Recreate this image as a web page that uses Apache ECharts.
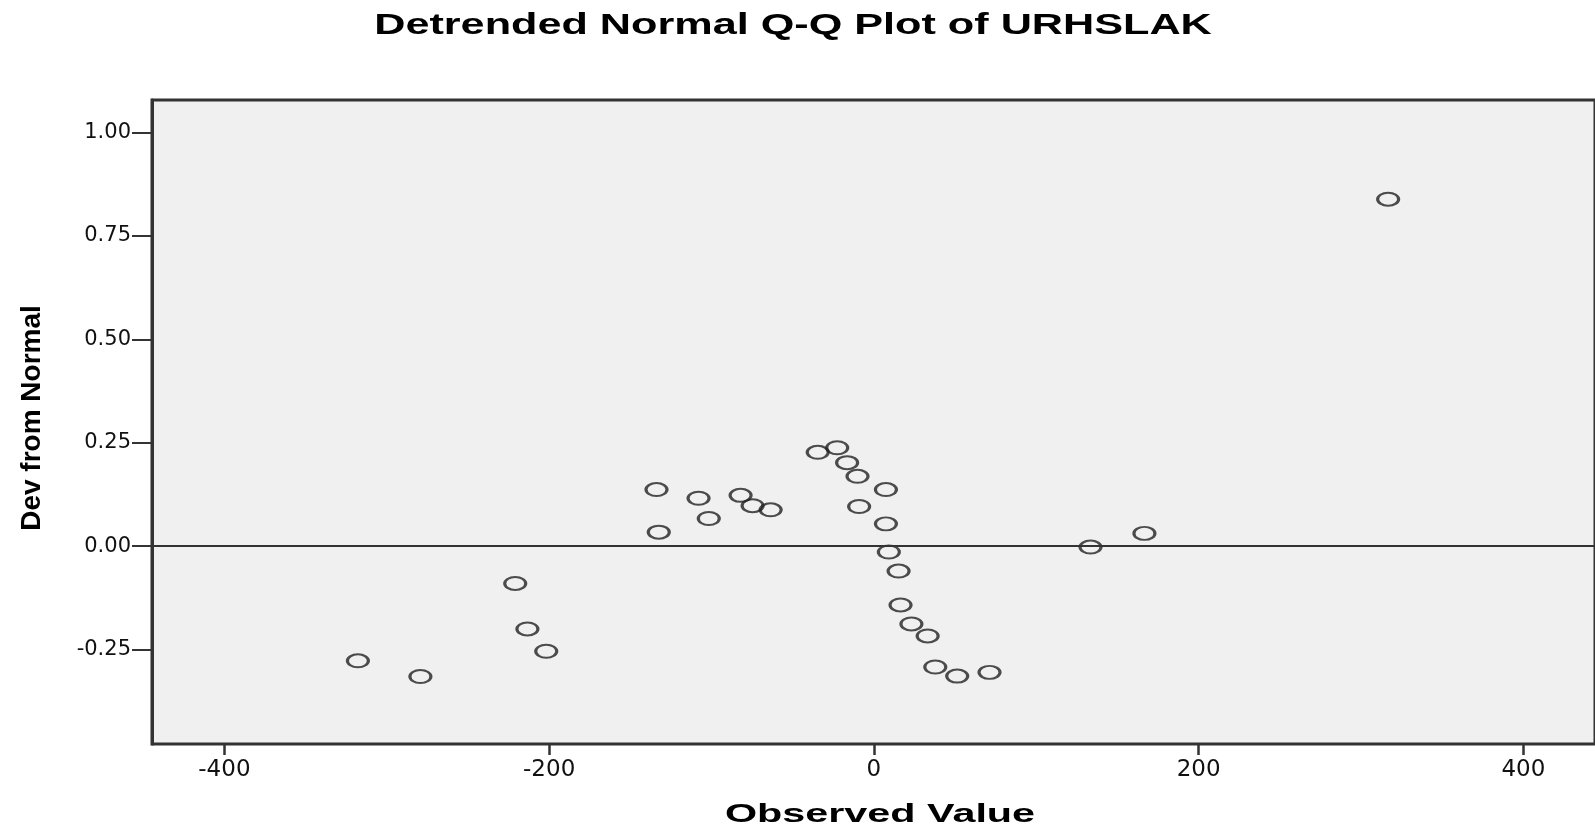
<!DOCTYPE html>
<html>
<head>
<meta charset="UTF-8"/>
<title>Detrended Normal Q-Q Plot of URHSLAK</title>
<script src="https://cdn.jsdelivr.net/npm/echarts@6/dist/echarts.min.js"></script>
<style>
	html, body { margin: 0; padding: 0; background: #fff; }
	#chart { width: 1595px; height: 829px; }
</style>
</head>
<body>
<div id="chart"></div>
<script type="text/javascript">
	var observed = [-317.8, -279.3, -220.9, -213.4, -201.8, -133.9, -132.5, -108.0, -101.7, -82.1,
		-74.7, -63.6, -34.6, -22.6, -16.5, -10.1, -9.1, 7.4, 7.4, 9.2,
		15.2, 16.4, 23.1, 33.1, 37.8, 51.3, 71.2, 133.4, 166.6, 316.7];
	var devFromNormal = [-0.277, -0.315, -0.090, -0.200, -0.254, 0.137, 0.034, 0.116, 0.067, 0.123,
		0.098, 0.088, 0.227, 0.238, 0.202, 0.169, 0.096, 0.137, 0.054, -0.014,
		-0.060, -0.142, -0.188, -0.217, -0.292, -0.314, -0.305, -0.002, 0.031, 0.839];
	var xTicks = [-400, -200, 0, 200, 400];
	var yTicks = [-0.25, 0, 0.25, 0.5, 0.75, 1];

	var points = [];
	for (var i = 0; i < observed.length; i++) {
		points.push([observed[i], devFromNormal[i]]);
	}

	var myChart = echarts.init(document.getElementById('chart'));
	var option = {
		animation: false,
		graphic: [
			{
				type: 'text', x: 793, y: 26, scaleX: 1.44,
				style: {
					text: 'Detrended Normal Q-Q Plot of URHSLAK',
					font: 'bold 30px "Liberation Sans", Arial, sans-serif',
					fill: '#000', align: 'center', verticalAlign: 'middle',
					textAlign: 'center', textVerticalAlign: 'middle'
				}
			},
			{
				type: 'text', x: 880, y: 815, scaleX: 1.59,
				style: {
					text: 'Observed Value',
					font: 'bold 26px "Liberation Sans", Arial, sans-serif',
					fill: '#000', align: 'center', verticalAlign: 'middle',
					textAlign: 'center', textVerticalAlign: 'middle'
				}
			}
		],
		grid: {
			left: 152, top: 100, right: -10, bottom: 85,
			show: true,
			backgroundColor: '#f0f0f0',
			borderColor: '#333',
			borderWidth: 3
		},
		xAxis: {
			type: 'value',
			min: -444.6,
			max: 444.1,
			// axis pushed 11px below the frame, ticks point back up to it
			offset: 11,
			splitLine: { show: false },
			axisLine: { show: false, onZero: false },
			axisTick: {
				show: true,
				inside: true,
				length: 11,
				customValues: xTicks,
				lineStyle: { color: '#333', width: 2.5 }
			},
			axisLabel: {
				customValues: xTicks,
				margin: 4,
				color: '#111',
				fontFamily: 'DejaVu Sans',
				fontSize: 23
			}
		},
		yAxis: {
			type: 'value',
			min: -0.4782,
			max: 1.0788,
			name: 'Dev from Normal',
			nameLocation: 'middle',
			nameGap: 106,
			nameTextStyle: {
				color: '#000',
				fontFamily: 'Liberation Sans',
				fontWeight: 'bold',
				fontSize: 28,
				padding: [0, 0, 0, 8]
			},
			splitLine: { show: false },
			axisLine: { show: true, onZero: false, lineStyle: { color: '#333', width: 3 } },
			axisTick: {
				show: true, length: 20,
				customValues: yTicks,
				lineStyle: { color: '#333', width: 2 }
			},
			axisLabel: {
				customValues: yTicks,
				margin: 21,
				color: '#111',
				fontFamily: 'DejaVu Sans',
				fontSize: 21,
				formatter: function (v) { return v.toFixed(2); }
			}
		},
		series: [
			{
				type: 'scatter',
				data: points,
				symbol: 'circle',
				symbolSize: [21, 13],
				itemStyle: {
					color: 'rgba(0,0,0,0)',
					borderColor: '#222',
					borderWidth: 2.5
				},
				markLine: {
					silent: true,
					symbol: 'none',
					label: { show: false },
					lineStyle: { color: '#333', width: 2, type: 'solid' },
					data: [{ yAxis: 0 }]
				}
			}
		]
	};
	myChart.setOption(option);
</script>
</body>
</html>
